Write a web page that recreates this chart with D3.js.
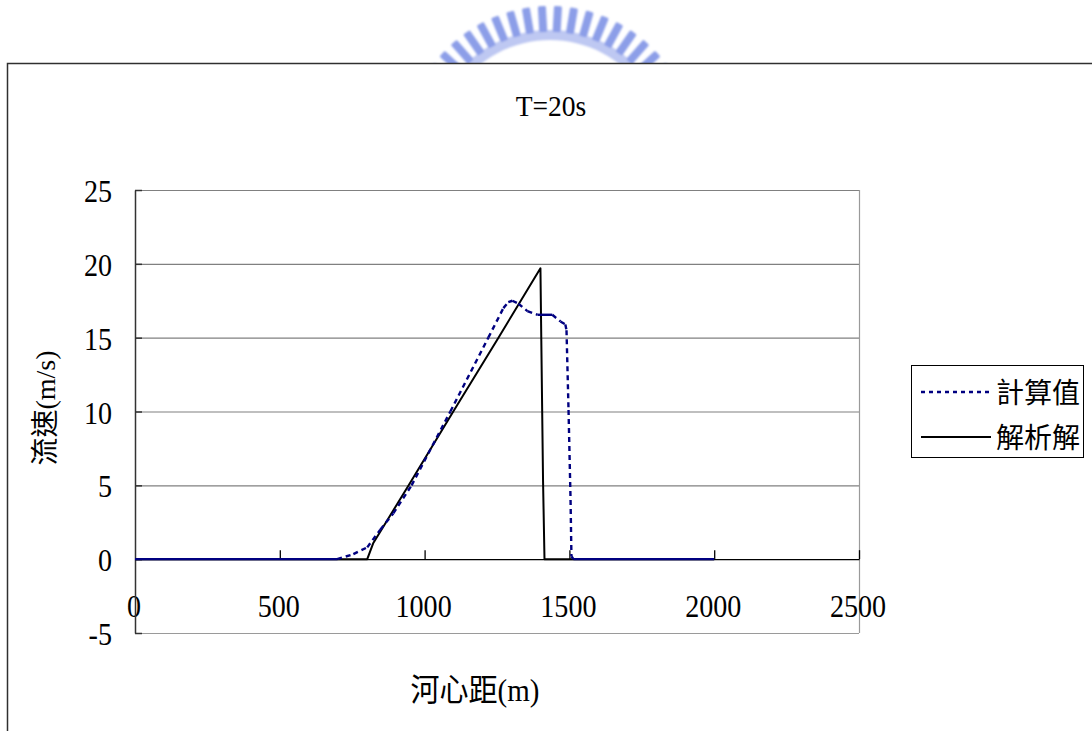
<!DOCTYPE html>
<html>
<head>
<meta charset="utf-8">
<script src="https://cdn.jsdelivr.net/npm/d3@7"></script>
<style>
  body { margin: 0; background: #fff; }
  svg { display: block; }
</style>
</head>
<body>
<div id="chart"></div>
<script>
// data
const title = 'T=20s';
const xTicks = [0, 500, 1000, 1500, 2000, 2500];
const yTicks = [-5, 0, 5, 10, 15, 20, 25];
const seriesNames = ['計算值', '解析解'];

// 計算值 (computed, dotted navy)
const calcX = [0, 698, 754, 802, 847, 892, 955, 1089, 1220, 1272, 1289, 1303, 1324, 1355, 1390, 1441, 1469, 1486, 1490, 1497, 1504, 1507, 1514, 2000];
const calcY = [0, 0, 0.34, 0.8, 2.0, 3.1, 5.0, 10.0, 15.0, 17.0, 17.4, 17.5, 17.3, 16.8, 16.55, 16.55, 16.1, 15.9, 15.5, 10.1, 4.0, 0.2, 0, 0];

// 解析解 (analytic, solid black)
const anaX = [0, 802, 823, 945, 1099, 1255, 1400, 1403, 1409, 1414, 2000];
const anaY = [0, 0, 1.1, 5.0, 10.0, 15.0, 19.7, 14.8, 5.3, 0, 0];

const W = 1092, H = 731;
const latin = '"Liberation Serif", "Times New Roman", serif';
const cjk = '"Liberation Serif", "Noto Sans CJK TC", "Noto Sans CJK SC", serif';

const svg = d3.select('#chart').append('svg')
  .attr('width', W)
  .attr('height', H);

// faint school logo behind the chart box (decoration)
const defs = svg.append('defs');
defs.append('filter').attr('id', 'soft')
  .append('feGaussianBlur').attr('stdDeviation', 0.8);
const logo = svg.append('g')
  .attr('transform', 'translate(550,152)')
  .attr('filter', 'url(#soft)');
logo.append('path')
  .attr('d', d3.arc().innerRadius(112).outerRadius(122).startAngle(-0.95).endAngle(0.95)())
  .attr('fill', 'rgb(190,200,242)');
d3.range(-54, 55, 6.35).forEach(a => {
  logo.append('rect')
    .attr('x', -4).attr('y', -146)
    .attr('width', 8).attr('height', 26)
    .attr('rx', 1.5)
    .attr('fill', 'rgb(140,158,232)')
    .attr('transform', `rotate(${a})`);
});

// chart box
svg.append('rect')
  .attr('x', 7.5).attr('y', 63.5)
  .attr('width', W + 20).attr('height', H)
  .attr('fill', '#fff')
  .attr('stroke', '#303030')
  .attr('stroke-width', 1.5);

const x = d3.scaleLinear().domain([0, 2500]).range([135, 859]);
const y = d3.scaleLinear().domain([-5, 25]).range([633, 190]);

// text helper: the original face is taller than Liberation Serif
function label(g, tx, ty, txt, anchor, sx, sy, size, fam) {
  return g.append('text')
    .attr('transform', `translate(${tx},${ty}) scale(${sx},${sy})`)
    .attr('text-anchor', anchor)
    .attr('font-family', fam || latin)
    .attr('font-size', size + 'px')
    .attr('fill', '#000')
    .text(txt);
}

// title
label(svg, 551, 116, title, 'middle', 1.06, 1.12, 26);

// gridlines
const grid = svg.append('g');
yTicks.filter(v => v > 0).forEach(v => {
  grid.append('line')
    .attr('x1', x(0)).attr('x2', x(2500))
    .attr('y1', y(v) + 0.5).attr('y2', y(v) + 0.5)
    .attr('stroke', '#808080').attr('stroke-width', 1.2);
});
// plot frame (bottom and right)
grid.append('line')
  .attr('x1', x(0)).attr('x2', x(2500))
  .attr('y1', y(-5) + 0.5).attr('y2', y(-5) + 0.5)
  .attr('stroke', '#9a9a9a').attr('stroke-width', 1.2);

// tick labels
const lab = svg.append('g');
yTicks.forEach(v => label(lab, 112, y(v) + 12, String(v), 'end', 1.08, 1.25, 26));
xTicks.forEach(v => label(lab, x(v) - 1, 617, String(v), 'middle', 1.08, 1.25, 26));

grid.append('line')
  .attr('x1', x(2500) + 0.5).attr('x2', x(2500) + 0.5)
  .attr('y1', y(25)).attr('y2', y(-5))
  .attr('stroke', '#9a9a9a').attr('stroke-width', 1.2);

// axes
const xAxis = d3.axisBottom(x).tickValues(xTicks.slice(1)).tickSizeInner(-9).tickSizeOuter(0).tickFormat('');
svg.append('g')
  .attr('transform', `translate(0,${y(0)})`)
  .call(xAxis)
  .call(g => g.selectAll('line, path').attr('stroke', '#000').attr('stroke-width', 1.3));

const yAxis = d3.axisLeft(y).tickValues(yTicks).tickSizeInner(-7).tickSizeOuter(0).tickFormat('');
svg.append('g')
  .attr('transform', `translate(${x(0)},0)`)
  .call(yAxis)
  .call(g => g.selectAll('line, path').attr('stroke', '#333').attr('stroke-width', 1.5));

// axis titles
label(svg, 475, 701, '河心距(m)', 'middle', 1, 1.1, 29, cjk);
svg.append('text')
  .attr('transform', 'translate(55,408) rotate(-90)')
  .attr('text-anchor', 'middle')
  .attr('font-family', cjk)
  .attr('font-size', '28px')
  .text('流速(m/s)');

// series
const line = d3.line().x(d => x(d[0])).y(d => y(d[1]));
const ana = anaX.map((v, i) => [v, anaY[i]]);
const calc = calcX.map((v, i) => [v, calcY[i]]);

svg.append('path')
  .datum(ana)
  .attr('fill', 'none')
  .attr('stroke', '#000')
  .attr('stroke-width', 2)
  .attr('stroke-linejoin', 'round')
  .attr('d', line);

// Excel restarts the dash on every segment, so flat runs read as solid
const calcG = svg.append('g');
d3.pairs(calc).forEach(([a, b]) => {
  const dx = Math.abs(x(b[0]) - x(a[0]));
  const dy = Math.abs(y(b[1]) - y(a[1]));
  const flat = dy < 0.25 * dx;
  calcG.append('path')
    .datum([a, b])
    .attr('fill', 'none')
    .attr('stroke', '#000080')
    .attr('stroke-width', 2.4)
    .attr('stroke-dasharray', flat ? null : '5,4')
    .attr('d', line);
});

// legend
const leg = svg.append('g');
leg.append('rect')
  .attr('x', 911.5).attr('y', 365.5)
  .attr('width', 172).attr('height', 92)
  .attr('fill', '#fff')
  .attr('stroke', '#000').attr('stroke-width', 1);
[
  { name: seriesNames[0], color: '#000080', dash: '4,4', w: 2.4, ly: 392 },
  { name: seriesNames[1], color: '#000', dash: null, w: 2, ly: 437 },
].forEach(s => {
  leg.append('line')
    .attr('x1', 921).attr('x2', 991)
    .attr('y1', s.ly).attr('y2', s.ly)
    .attr('stroke', s.color)
    .attr('stroke-width', s.w)
    .attr('stroke-dasharray', s.dash);
  leg.append('text')
    .attr('x', 996).attr('y', s.ly + 11)
    .attr('font-family', cjk)
    .attr('font-size', '28px')
    .text(s.name);
});
</script>
</body>
</html>
